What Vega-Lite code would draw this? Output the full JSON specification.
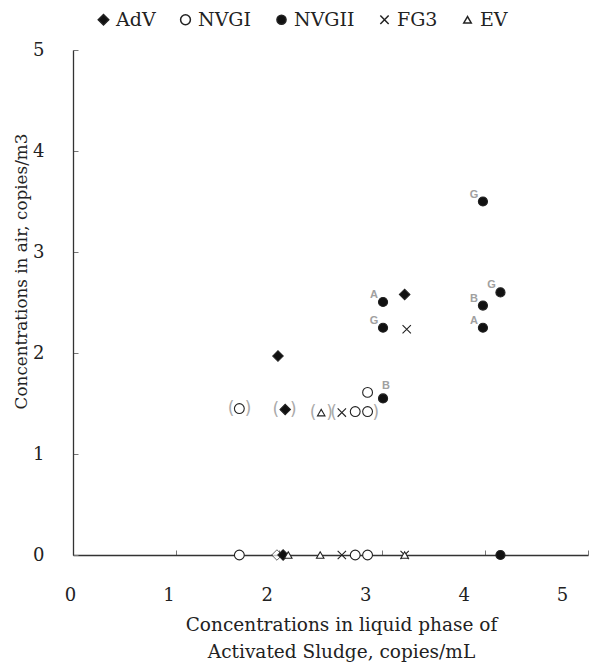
{
  "$schema": "https://vega.github.io/schema/vega-lite/v6.json",
  "width": 515,
  "height": 505,
  "autosize": {"type": "none"},
  "padding": {"left": 73, "top": 50, "right": 5, "bottom": 110},
  "background": "white",
  "config": {
    "view": {"stroke": null},
    "font": "DejaVu Serif",
    "axis": {
      "grid": false,
      "domainColor": "#333333",
      "domainWidth": 1.3,
      "tickColor": "#777777",
      "tickSize": -5,
      "labelFont": "DejaVu Serif",
      "labelFontSize": 18,
      "labelColor": "#222222",
      "titleFont": "DejaVu Serif",
      "titleFontSize": 18.5,
      "titleFontWeight": "normal",
      "titleColor": "#222222"
    },
    "legend": {
      "orient": "none",
      "direction": "horizontal",
      "legendX": 21,
      "legendY": -40,
      "labelFont": "DejaVu Serif",
      "labelFontSize": 19,
      "labelColor": "#222222",
      "labelOffset": 3,
      "columnPadding": 20,
      "title": null
    }
  },
  "datasets": {
    "points": [
      {"x": 1.99, "y": 1.97, "series": "AdV"},
      {"x": 3.22, "y": 2.58, "series": "AdV"},
      {"x": 2.06, "y": 1.44, "series": "AdV"},
      {"x": 2.04, "y": 0, "series": "AdV"},
      {"x": 1.615, "y": 1.45, "series": "NVGI"},
      {"x": 2.74, "y": 1.42, "series": "NVGI"},
      {"x": 2.86, "y": 1.42, "series": "NVGI"},
      {"x": 2.86, "y": 1.61, "series": "NVGI"},
      {"x": 1.615, "y": 0, "series": "NVGI"},
      {"x": 2.74, "y": 0, "series": "NVGI"},
      {"x": 2.86, "y": 0, "series": "NVGI"},
      {"x": 3.98, "y": 3.5, "series": "NVGII", "lab": "G"},
      {"x": 3.01, "y": 2.505, "series": "NVGII", "lab": "A"},
      {"x": 3.01, "y": 2.25, "series": "NVGII", "lab": "G"},
      {"x": 4.15, "y": 2.6, "series": "NVGII", "lab": "G"},
      {"x": 3.98, "y": 2.47, "series": "NVGII", "lab": "B"},
      {"x": 3.98, "y": 2.25, "series": "NVGII", "lab": "A"},
      {"x": 3.01, "y": 1.55, "series": "NVGII", "lab": "B"},
      {"x": 4.15, "y": 0, "series": "NVGII"},
      {"x": 3.24, "y": 2.235, "series": "FG3"},
      {"x": 2.61, "y": 1.41, "series": "FG3"},
      {"x": 2.61, "y": 0, "series": "FG3"},
      {"x": 3.22, "y": 0, "series": "FG3"},
      {"x": 2.41, "y": 1.41, "series": "EV"},
      {"x": 2.09, "y": 0, "series": "EV"},
      {"x": 2.4, "y": 0, "series": "EV"},
      {"x": 3.22, "y": 0, "series": "EV"}
    ],
    "brackets": [
      {"x": 1.534, "y": 1.45, "b": "("},
      {"x": 1.70, "y": 1.45, "b": ")"},
      {"x": 1.97, "y": 1.44, "b": "("},
      {"x": 2.14, "y": 1.44, "b": ")"},
      {"x": 2.33, "y": 1.41, "b": "("},
      {"x": 2.49, "y": 1.41, "b": ")"},
      {"x": 2.53, "y": 1.41, "b": "("},
      {"x": 2.94, "y": 1.41, "b": ")"}
    ],
    "open": [
      {"x": 1.98, "y": 0}
    ]
  },
  "encoding": {
    "x": {"field": "x", "type": "quantitative", "scale": {"domain": [0, 5], "nice": false}, "axis": {"values": [0, 1, 2, 3, 4, 5], "format": "d", "labelPadding": 36, "labelFlush": false, "labelBound": false, "labelOffset": {"expr": "-3 - 4.6 * datum.value"}, "title": ["Concentrations in liquid phase of", "Activated Sludge, copies/mL"], "titleX": 268, "titleY": 60, "titleBaseline": "top", "titleAlign": "center", "titleLineHeight": 27}},
    "y": {"field": "y", "type": "quantitative", "scale": {"domain": [0, 5], "nice": false}, "axis": {"values": [0, 1, 2, 3, 4, 5], "format": "d", "labelPadding": 34, "labelFlush": false, "labelBound": false, "title": "Concentrations in air, copies/m3", "titleFontSize": 16.8, "titleX": -52, "titleY": 221, "titleAlign": "center", "titleBaseline": "middle", "titleAngle": -90}}
  },
  "layer": [
    {
      "data": {"name": "brackets"},
      "mark": {"type": "text", "font": "DejaVu Sans", "fontSize": 17, "color": "#aaaaaa", "baseline": "middle", "align": "center"},
      "encoding": {
        "text": {"field": "b"}
      }
    },
    {
      "data": {"name": "open"},
      "mark": {"type": "point", "shape": "diamond", "filled": true, "fill": "white", "stroke": "#222222", "strokeWidth": 1, "size": 110},
      "encoding": {}
    },
    {
      "data": {"name": "points"},
      "mark": {"type": "point", "filled": true, "stroke": "#222222", "strokeWidth": 1.1, "opacity": 1},
      "encoding": {
        "shape": {"field": "series", "type": "nominal", "scale": {"domain": ["AdV", "NVGI", "NVGII", "FG3", "EV"], "range": ["diamond", "circle", "circle", "M-1,-1L1,1M1,-1L-1,1", "triangle-up"]}, "legend": {"encode": {"symbols": {"update": {"stroke": {"value": "#222222"}, "strokeWidth": {"value": 1}}}}}},
        "fill": {"field": "series", "type": "nominal", "scale": {"domain": ["AdV", "NVGI", "NVGII", "FG3", "EV"], "range": ["#111111", "#ffffff", "#111111", "transparent", "#ffffff"]}},
        "size": {"field": "series", "type": "nominal", "scale": {"domain": ["AdV", "NVGI", "NVGII", "FG3", "EV"], "range": [110, 56, 81, 121, 121]}}
      }
    },
    {
      "data": {"name": "points"},
      "transform": [{"filter": "datum.lab && datum.y >= 2"}],
      "mark": {"type": "text", "font": "Liberation Sans", "fontWeight": "bold", "fontSize": 11, "color": "#a0a0a0", "dx": -9, "dy": -7},
      "encoding": {
        "text": {"field": "lab"}
      }
    },
    {
      "data": {"name": "points"},
      "transform": [{"filter": "datum.lab && datum.y < 2"}],
      "mark": {"type": "text", "font": "Liberation Sans", "fontWeight": "bold", "fontSize": 11, "color": "#a0a0a0", "dx": 3, "dy": -12},
      "encoding": {
        "text": {"field": "lab"}
      }
    }
  ]
}
